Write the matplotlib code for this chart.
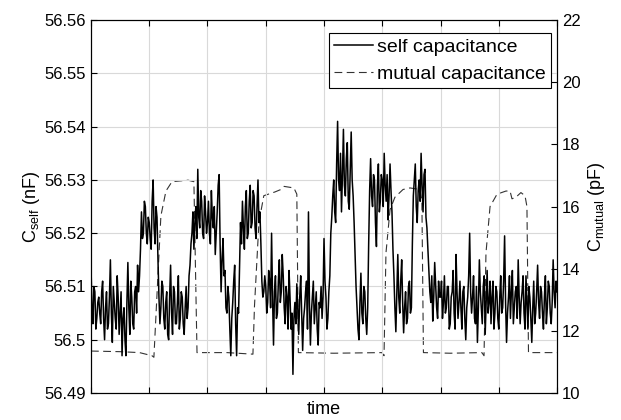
import matplotlib.pyplot as plt
import numpy as np
from matplotlib.ticker import FormatStrFormatter, MultipleLocator

plt.rcParams['font.family'] = ['Liberation Sans', 'DejaVu Sans']
plt.rcParams['mathtext.fontset'] = 'custom'
plt.rcParams['mathtext.rm'] = 'Liberation Sans'
plt.rcParams['mathtext.it'] = 'Liberation Sans:italic'

# self capacitance: offset above 56.5 nF, in pF (1e-3 nF), one sample per time step
self_dev_pf = [
    # 0-59
    14, 6, 3, 10, 9, 2, 4, 7, 8, 5, 3, 9, 11, 4, 0, 6, 9, 2, 3, 8,
    15, 5, -0.5, 10, 7, 4, 2, 12, 8, 1, 5, 9, -3, 4, 6, 0, -3, 7, 14.5, 6,
    1, 11, 8, 3, 2, 9, 10, 5, 14, 9, 12, 17, 24, 19, 20, 26, 25, 20, 18, 23,
    # 60-119
    22, 19, 17, 26, 30, 21, 18, 25, 23, 15, 8, 3, 6, 11, 10, 4, 2, 7, 9, 1,
    0, 8, 14, 5, 1, 10, 9, 3, 3, 7, 12, 2, 4, 9, 8, 3, 1, 6, 10, 4,
    6, 12, 14, 18, 20, 24, 17, 22, 25, 19, 32, 23, 21, 28, 26, 20, 19, 27, 24, 20,
    # 120-179
    22, 26, 20, 18, 28, 23, 21, 25, 16, 20, 24, 29, 31, 18, 9, 15, 19, 12, 13, 6,
    5, 10, 8, 2, -3, 4, 7, 11, 14, 3, -3, 6, 5, 14, 22, 18, 26, 21, 17, 25,
    28, 19, 20, 26, 29, 21, 22, 28, 27, 21, 19, 25, 30, 22, 24, 18, 11, 8, 9, 12,
    # 180-239
    10, 5, 7, 13, 11, 6, 20, 8, -1, 9, 12, 4, 5, 11, 15, 7, 9, 16, 12, 6,
    3, 10, 8, 2, 13, 8, 2, 5, -6.5, 4, 7, 3, 10.5, 6, 1, 8, 12, 5, -2, 4,
    6, 9, 11, 2, 24, 7, -1, 5, 8, 11, 3, 6, 9, 2, -1, 7, 6, 10, 4, 8,
    # 240-299
    19, 11, 8, 2, 4, 9, 12, 20, 23, 27, 30, 24, 22, 33, 41, 30, 28, 35, 24, 31,
    39.5, 29, 27, 34, 37, 26, 24.5, 32, 39, 30, 27, 22, 16, 10, 6, 2, 0, 7, 12.5, 5,
    3, 10, 9, 4, 1, 6, 18, 28, 34, 27, 25, 31, 30, 22, 17.5, 29, 33, 24, 26, 31,
    # 300-359
    30, 25, 35, 29, 26, 31, 22.5, 27, 33, 28, 24, 17, 12, 6, 1.5, 9, 16, 8, 5, 11,
    15, 7, 1.3, 6, 9, 3, 4, 10, 11, 5, 6, 18, 27, 30, 33, 25, 22, 28, 30, 26,
    35, 29, 24, 31, 32, 23, 21, 17, 13, 9, 7, 12, 3.5, 8, 14.5, 10, 6, 4, 11, 8,
    # 360-419
    8, 11, 4, 7, 12, 5, 6, 10, 10, 2, 3, 8, 9, 13, 5, 2, 16, 9, 4, 7,
    11, 6, 2, 9, 10, 4, 0, 6, 8, 12, 20, 9, 5, 8, 12, 4, 3, 10, -0.5, 6,
    15, 9, 6, 3, 10, 12, 1, 7, 13, 5, 7, 11, 3, 8, 11, 2, 5, 10, 9, 4,
    # 420-480
    2, 8, 12, 5, 6, 11, 19.5, 7, -0.5, 5, 8, 12, 4, 9, 13, 3, 6, 9, 10, 4,
    15, 8, 3, 7, 9, 12, 5, 2, 12, 7, 2, 10, 8, 4, -0.5, 6, 11, 3, 5, 9,
    14, 7, 4, 10, 9, 5, 2, 8, 12, 3, 6, 11, 10, 5, 3, 7, 15, 9, 6, 11, 9,
]
self_c = 56.5 + np.array(self_dev_pf) / 1000.0
time = np.arange(len(self_c))

# mutual capacitance (pF), sampled at the time steps below
mutual_t = [0, 30, 50, 62.8, 64.8, 72, 77.2, 83.4, 100, 106, 109.2,
            140, 166.8, 168.4, 173, 178, 189.4, 195.6, 198.8, 209, 212, 213.6,
            250, 299.6, 301.8, 303.8, 308, 313, 321.4, 328.6, 338.8, 340.8, 342.4,
            370, 402.6, 404.8, 406.8, 411, 418.2, 427.4, 431.6, 433.6, 437.6,
            442.8, 447, 449, 450.6, 480]
mutual_c = [11.35, 11.33, 11.3, 11.2, 11.15, 15.7, 16.5, 16.8, 16.85, 16.8, 11.3,
            11.3, 11.25, 12.8, 15.5, 16.35, 16.47, 16.55, 16.65, 16.6, 16.4, 11.3,
            11.28, 11.3, 11.2, 14.5, 15.9, 16.3, 16.55, 16.6, 16.55, 16.2, 11.3,
            11.28, 11.3, 11.2, 14.5, 16.0, 16.4, 16.5, 16.5, 16.25, 16.3,
            16.45, 16.35, 16.0, 11.3, 11.3]

fig = plt.figure(figsize=(6.21, 4.20), dpi=100)
ax = fig.add_axes([0.1465, 0.0643, 0.7505, 0.8877])
ax2 = ax.twinx()

l2, = ax2.plot(mutual_t, mutual_c, color='0.2', lw=0.8, dashes=(7, 4),
               label='mutual capacitance')
l1, = ax.plot(time, self_c, color='black', lw=1.1, label='self capacitance')

ax.set_zorder(ax2.get_zorder() + 1)
ax.patch.set_visible(False)

ax.set_xlim(0, 480)
ax.set_ylim(56.49, 56.56)
ax.yaxis.set_major_locator(MultipleLocator(0.01))
ax.yaxis.set_major_formatter(FormatStrFormatter('%g'))
ax.xaxis.set_major_locator(MultipleLocator(60))
ax.set_xticklabels([])
ax.grid(True, color='0.85', lw=0.8)
ax.tick_params(direction='in', top=True, labelsize=12, length=4)
ax.set_xlabel('time', fontsize=13, labelpad=2)
ax.set_ylabel(r'C$_{\rm self}$ (nF)', fontsize=13, labelpad=2)

ax2.set_ylim(10, 22)
ax2.yaxis.set_major_locator(MultipleLocator(2))
ax2.tick_params(direction='in', labelsize=12, length=4)
ax2.set_ylabel(r'C$_{\rm mutual}$ (pF)', fontsize=13, labelpad=4)

leg = ax.legend(handles=[l1, l2], loc='upper right', fontsize=14,
                bbox_to_anchor=(0.987, 0.965), borderaxespad=0,
                fancybox=False, framealpha=1, edgecolor='black',
                handlelength=2.0, labelspacing=0.45,
                borderpad=0.28, handletextpad=0.2)
leg.get_frame().set_linewidth(0.8)

fig.savefig('out.png', dpi=100)
